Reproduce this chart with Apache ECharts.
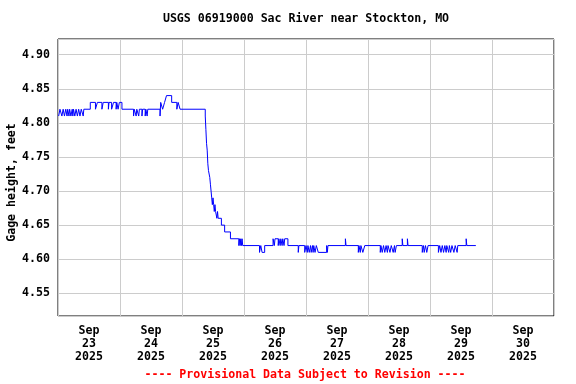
<!DOCTYPE html>
<html>
<head>
<meta charset="utf-8">
<script src="https://cdn.jsdelivr.net/npm/echarts@6/dist/echarts.min.js"></script>
<style>
html,body{margin:0;padding:0;background:#fff;}
#chart{width:576px;height:384px;}
</style>
</head>
<body>
<div id="chart"></div>
<script>
// Hours since Sep 23 2025 00:00 at which the reading changes, and the new gage height (ft)
const hours = [
  0.25,0.75,1.5,2.0,2.5,3.0,3.5,3.75,4.25,4.5,5.0,5.5,5.75,6.0,6.5,7.0,7.5,8.0,8.5,9.0,9.75,10.0,
  12.5,14.5,15.25,17.0,17.5,19.5,19.75,20.75,21.5,22.5,22.75,23.25,23.75,24.75,
  29.25,29.5,30.25,30.5,31.25,31.5,32.5,32.75,33.75,34.0,34.5,34.75,
  39.5,39.75,40.5,41.25,42.0,44.0,46.0,46.5,47.25,
  57.0,57.25,57.5,57.75,58.0,58.25,58.75,59.0,59.25,59.5,59.75,60.0,60.25,60.5,60.75,61.0,61.5,61.75,62.0,63.25,64.5,66.75,
  70.0,70.25,70.5,70.75,71.0,71.25,71.5,
  78.0,78.5,79.0,80.0,
  83.25,83.75,84.0,85.25,85.5,86.0,86.25,86.75,87.0,87.5,87.75,89.0,
  93.0,93.25,
  95.5,96.0,96.5,96.75,97.25,97.75,98.0,98.5,98.75,99.0,99.5,100.0,100.75,104.0,104.25,104.5,
  111.25,111.5,
  116.25,116.5,117.0,117.25,118.0,118.75,
  124.75,125.0,125.5,126.0,126.5,127.0,127.5,127.75,128.5,129.0,129.75,130.25,130.5,131.0,
  133.25,133.5,135.25,135.5,
  141.0,141.5,141.75,142.25,142.75,143.25,
  147.25,147.75,148.25,148.75,149.25,149.75,150.25,150.5,151.25,151.5,152.0,152.5,153.25,153.75,154.5,154.75,
  158.0,158.25,161.75
];
const gage = [
  4.81,4.82,4.81,4.82,4.81,4.82,4.81,4.82,4.81,4.82,4.81,4.82,4.81,4.82,4.81,4.82,4.81,4.82,4.81,4.82,4.81,4.82,
  4.83,4.82,4.83,4.82,4.83,4.82,4.83,4.82,4.83,4.82,4.83,4.82,4.83,4.82,
  4.81,4.82,4.81,4.82,4.81,4.82,4.81,4.82,4.81,4.82,4.81,4.82,
  4.81,4.83,4.82,4.83,4.84,4.83,4.82,4.83,4.82,
  4.81,4.79,4.77,4.76,4.74,4.73,4.72,4.71,4.70,4.69,4.68,4.69,4.68,4.67,4.68,4.67,4.66,4.67,4.66,4.65,4.64,4.63,
  4.62,4.63,4.62,4.63,4.62,4.63,4.62,
  4.61,4.62,4.61,4.62,
  4.63,4.62,4.63,4.62,4.63,4.62,4.63,4.62,4.63,4.62,4.63,4.62,
  4.61,4.62,
  4.61,4.62,4.61,4.62,4.61,4.62,4.61,4.62,4.61,4.62,4.61,4.62,4.61,4.62,4.61,4.62,
  4.63,4.62,
  4.61,4.62,4.61,4.62,4.61,4.62,
  4.61,4.62,4.61,4.62,4.61,4.62,4.61,4.62,4.61,4.62,4.61,4.62,4.61,4.62,
  4.63,4.62,4.63,4.62,
  4.61,4.62,4.61,4.62,4.61,4.62,
  4.61,4.62,4.61,4.62,4.61,4.62,4.61,4.62,4.61,4.62,4.61,4.62,4.61,4.62,4.61,4.62,
  4.63,4.62,4.62
];
const dayMonths = ['Sep','Sep','Sep','Sep','Sep','Sep','Sep','Sep'];
const dayNumbers = ['23','24','25','26','27','28','29','30'];
const dayYears = ['2025','2025','2025','2025','2025','2025','2025','2025'];
const titleText = 'USGS 06919000 Sac River near Stockton, MO';
const yAxisName = 'Gage height, feet';
const footerText = '---- Provisional Data Subject to Revision ----';

const FONT = "'DejaVu Sans Mono', 'Liberation Mono', monospace";
const FS = 11.6;

const chart = echarts.init(document.getElementById('chart'), null, {renderer: 'canvas'});
const seriesData = hours.map((h, i) => [h, gage[i]]);
const dayLabels = dayMonths.map((m, i) => m + '\n' + dayNumbers[i] + '\n' + dayYears[i]);

chart.setOption({
  animation: false,
  backgroundColor: '#ffffff',
  grid: {left: 58, right: 22, top: 39, bottom: 68, show: true, borderColor: '#000', borderWidth: 1,
    backgroundColor: 'transparent', containLabel: false, outerBoundsMode: 'none'},
  graphic: [
    {type: 'text', x: 306, y: 19, style: {text: titleText, font: 'bold ' + FS + 'px ' + FONT, fill: '#000', textAlign: 'center', textVerticalAlign: 'middle'}},
    {type: 'text', x: 305, y: 375, style: {text: footerText, font: 'bold ' + FS + 'px ' + FONT, fill: '#ff0000', textAlign: 'center', textVerticalAlign: 'middle'}}
  ],
  xAxis: [
    {
      type: 'value', min: 0, max: 192, interval: 24,
      axisLine: {show: false}, axisTick: {show: false}, axisLabel: {show: false},
      splitLine: {show: true, lineStyle: {color: '#cccccc', width: 1}}
    },
    {
      type: 'category', position: 'bottom', data: dayLabels, boundaryGap: true,
      axisLine: {show: false}, axisTick: {show: false}, splitLine: {show: false},
      axisLabel: {margin: 9, color: '#000', fontFamily: FONT, fontWeight: 'bold', fontSize: FS, lineHeight: 12.7, interval: 0}
    }
  ],
  yAxis: {
    type: 'value', min: 4.5167, max: 4.923, splitNumber: 8,
    name: yAxisName, nameLocation: 'middle', nameGap: 40, nameRotate: 90, nameMoveOverlap: false,
    nameTextStyle: {color: '#000', fontFamily: FONT, fontWeight: 'bold', fontSize: FS, padding: [0, 10, 0, 0]},
    axisLine: {show: false}, axisTick: {show: false},
    axisLabel: {margin: 8, color: '#000', fontFamily: FONT, fontWeight: 'bold', fontSize: FS,
      showMinLabel: false, showMaxLabel: false, formatter: v => v.toFixed(2)},
    splitLine: {show: true, lineStyle: {color: '#cccccc', width: 1}}
  },
  series: [{
    type: 'line', xAxisIndex: 0, step: 'end', data: seriesData,
    showSymbol: false, symbol: 'none',
    lineStyle: {color: '#0000ff', width: 1}
  }]
});
</script>
</body>
</html>
